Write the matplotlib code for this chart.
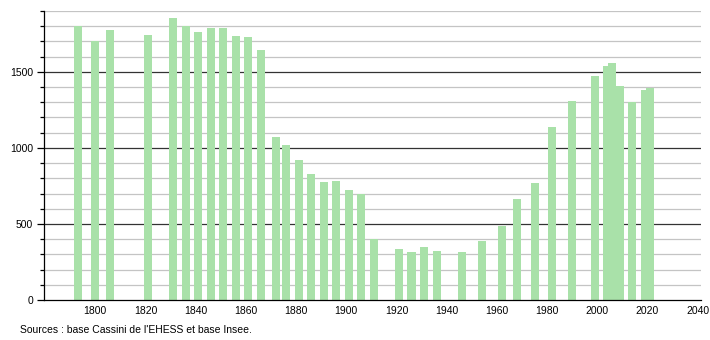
import matplotlib
matplotlib.use("Agg")
import matplotlib.pyplot as plt
from matplotlib.ticker import MultipleLocator

years = [1793, 1800, 1806, 1821, 1831, 1836, 1841, 1846, 1851, 1856, 1861, 1866,
         1872, 1876, 1881, 1886, 1891, 1896, 1901, 1906, 1911, 1921, 1926, 1931,
         1936, 1946, 1954, 1962, 1968, 1975, 1982, 1990, 1999, 2004, 2006, 2009,
         2014, 2019, 2021]
population = [1803, 1704, 1776, 1743, 1855, 1803, 1763, 1787, 1787, 1737, 1730, 1645,
              1072, 1020, 921, 829, 776, 783, 724, 697, 399, 336, 316, 349,
              322, 316, 390, 487, 662, 772, 1140, 1309, 1474, 1540, 1557, 1410,
              1300, 1380, 1397]
y_major = [0, 500, 1000, 1500]
x_ticks = [1800, 1820, 1840, 1860, 1880, 1900, 1920, 1940, 1960, 1980, 2000, 2020, 2040]
source_text = "Sources : base Cassini de l'EHESS et base Insee."

plt.rcParams['font.family'] = ['Liberation Sans', 'DejaVu Sans']

fig = plt.figure(figsize=(7.1, 3.4), dpi=100)
ax = fig.add_axes([44/710, 40/340, 656.7/710, 289/340])

ax.set_xlim(1779.6, 2041.2)
ax.set_ylim(0, 1900)

# grid
ax.yaxis.set_major_locator(MultipleLocator(500))
ax.yaxis.set_minor_locator(MultipleLocator(100))
for v in range(100, 2000, 100):
    if v % 500 == 0:
        ax.axhline(v, color='#333333', lw=0.9, zorder=1)
    else:
        ax.axhline(v, color='#c4c4c4', lw=0.9, zorder=1)

ax.bar(years, population, width=3.2, color='#a9e1a9', zorder=2, linewidth=0)

ax.set_xticks(x_ticks)
ax.set_xticklabels([str(x) for x in x_ticks], fontsize=7.5)
ax.set_yticks(y_major)
ax.set_yticklabels([str(v) for v in y_major], fontsize=7.5)
ax.tick_params(axis='x', length=0, pad=4)
ax.tick_params(axis='y', which='major', length=5, width=0.9, pad=3, direction='out')
ax.tick_params(axis='y', which='minor', length=3, width=0.9, direction='out')

for s in ['top', 'right']:
    ax.spines[s].set_visible(False)
ax.spines['left'].set_linewidth(0.9)
ax.spines['bottom'].set_linewidth(0.9)

fig.text(20/710, 1 - 330/340, source_text, fontsize=7.5, va='center', ha='left')

fig.savefig('out.png', dpi=100)
